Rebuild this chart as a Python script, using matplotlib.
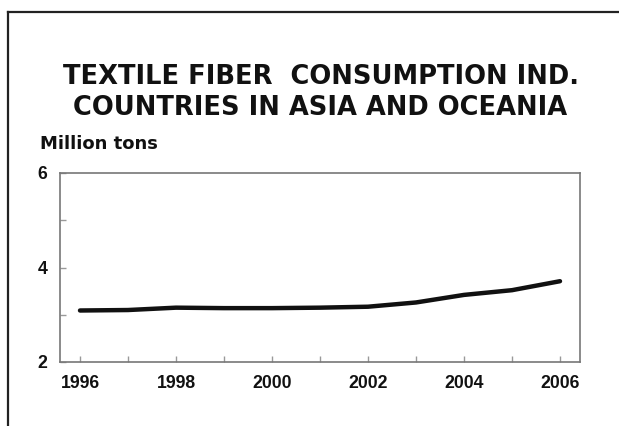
import matplotlib
matplotlib.use("Agg")
import matplotlib.pyplot as plt
from matplotlib.lines import Line2D
from matplotlib.ticker import MultipleLocator

years = [1996, 1997, 1998, 1999, 2000, 2001, 2002, 2003, 2004, 2005, 2006]
consumption = [3.09, 3.10, 3.15, 3.14, 3.14, 3.15, 3.17, 3.26, 3.42, 3.52, 3.71]
x_ticks = [1996, 1998, 2000, 2002, 2004, 2006]
y_ticks = [2, 4, 6]
title_lines = ["TEXTILE FIBER  CONSUMPTION IND.", "COUNTRIES IN ASIA AND OCEANIA"]
unit_label = "Million tons"

plt.rcParams['font.family'] = ['Liberation Sans', 'DejaVu Sans']

W, H = 619, 426
fig = plt.figure(figsize=(W / 100, H / 100), dpi=100)
fig.patch.set_facecolor('white')

def fx(px):
    return px / W

def fy(py):
    return 1 - py / H

# frame lines (top and left)
fig.add_artist(Line2D([fx(8), fx(619)], [fy(12), fy(12)], color='#222222', lw=1.6,
                      transform=fig.transFigure))
fig.add_artist(Line2D([fx(8), fx(8)], [fy(12), fy(426)], color='#222222', lw=1.6,
                      transform=fig.transFigure))

fig.text(fx(321), fy(77), title_lines[0], ha='center', va='center',
         fontsize=18.5, fontweight='bold', color='#111111', family='DejaVu Sans')
fig.text(fx(320), fy(108), title_lines[1], ha='center', va='center',
         fontsize=18.5, fontweight='bold', color='#111111', family='DejaVu Sans')
fig.text(fx(40), fy(144), unit_label, ha='left', va='center',
         fontsize=13.0, fontweight='bold', color='#111111', family='DejaVu Sans')

ax = fig.add_axes([fx(60), fy(362), fx(580) - fx(60), fy(173) - fy(362)])
ax.plot(years, consumption, color='#111111', lw=3.2, solid_capstyle='round')
ax.set_xlim(1996 - 20 / 48, 2006 + 20 / 48)
ax.set_ylim(2, 6)
ax.set_xticks(x_ticks)
ax.set_yticks(y_ticks)
ax.xaxis.set_minor_locator(MultipleLocator(1))
ax.yaxis.set_minor_locator(MultipleLocator(1))
for s in ax.spines.values():
    s.set_color('#777777')
    s.set_linewidth(1.2)
ax.tick_params(axis='both', which='both', direction='in', color='#999999', width=1.0)
ax.tick_params(axis='both', which='major', length=4)
ax.tick_params(axis='both', which='minor', length=4)
ax.tick_params(axis='x', which='major', labelsize=12.7, pad=9)
ax.tick_params(axis='y', which='major', labelsize=12.7, pad=9)
for lab in ax.get_xticklabels() + ax.get_yticklabels():
    lab.set_fontweight('bold')
    lab.set_color('#111111')

fig.savefig('out.png', dpi=100)
